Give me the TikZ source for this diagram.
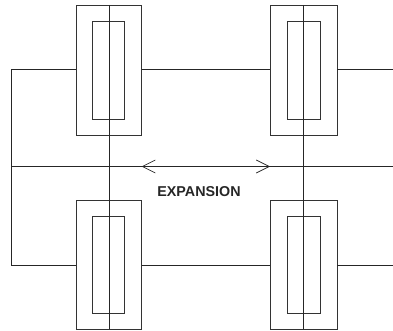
\documentclass[tikz,border=0pt]{standalone}
\usepackage{fontspec}
\setmainfont{Liberation Sans}
\usetikzlibrary{arrows.meta}
\tikzset{
  outerbox/.style={draw=black!80,line width=0.9pt,minimum width=65pt,minimum height=130.5pt,inner sep=0pt},
  innerbox/.style={draw=black!80,line width=0.9pt,minimum width=32pt,minimum height=97.5pt,inner sep=0pt},
  wire/.style={draw=black!85,line width=0.9pt},
  vee/.style={{Straight Barb[length=13pt,width=13pt,line width=0.7pt]}-{Straight Barb[length=13pt,width=13pt,line width=0.7pt]}},
  lbl/.style={font=\fontsize{14.3}{16}\selectfont\bfseries,text=black!85,inner sep=0pt}
}
\begin{document}
\begin{tikzpicture}[x=1pt,y=-1pt]
\useasboundingbox (0,0) rectangle (393,331);
% outer and inner boxes
\node[outerbox] (tlo) at (108.75,70.25) {};
\node[innerbox] (tli) at (108.75,70.25) {};
\node[outerbox,minimum width=66.5pt] (tro) at (303.75,70.25) {};
\node[innerbox,minimum width=33pt] (tri) at (303.5,70.25) {};
\node[outerbox,minimum height=129pt] (blo) at (108.75,264.5) {};
\node[innerbox,minimum height=96.5pt] (bli) at (108.75,264.75) {};
\node[outerbox,minimum width=66.5pt,minimum height=129pt] (bro) at (303.75,264.5) {};
\node[innerbox,minimum width=33pt,minimum height=96.5pt] (bri) at (303.5,264.75) {};
% free ends
\coordinate (topcorner) at (11.5,69.5);
\coordinate (botcorner) at (11.5,265);
\coordinate (midleft) at (11.5,166.5);
\coordinate (midright) at (393,166.5);
\coordinate (topright) at (393,69.5);
\coordinate (botright) at (393,265);
\coordinate (arrowl) at (141.5,166.5);
\coordinate (arrowr) at (270,166.5);
% vertical rods
\draw[wire] (109.5,5) -- (109.5,329);
\draw[wire] (303.5,5) -- (303.5,329);
% wires
\draw[wire] (tlo.west |- topcorner) -- (topcorner) -- (botcorner) -- (blo.west |- botcorner);
\draw[wire] (tlo.east |- topcorner) -- (tro.west |- topcorner);
\draw[wire] (tro.east |- topright) -- (topright);
\draw[wire] (blo.east |- botcorner) -- (bro.west |- botcorner);
\draw[wire] (bro.east |- botright) -- (botright);
\draw[wire] (midleft) -- (midright);
% expansion arrow
\draw[wire,vee] (arrowl) -- (arrowr);
\node[lbl] (exp) at (199,191.5) {EXPANSION};
\end{tikzpicture}
\end{document}
